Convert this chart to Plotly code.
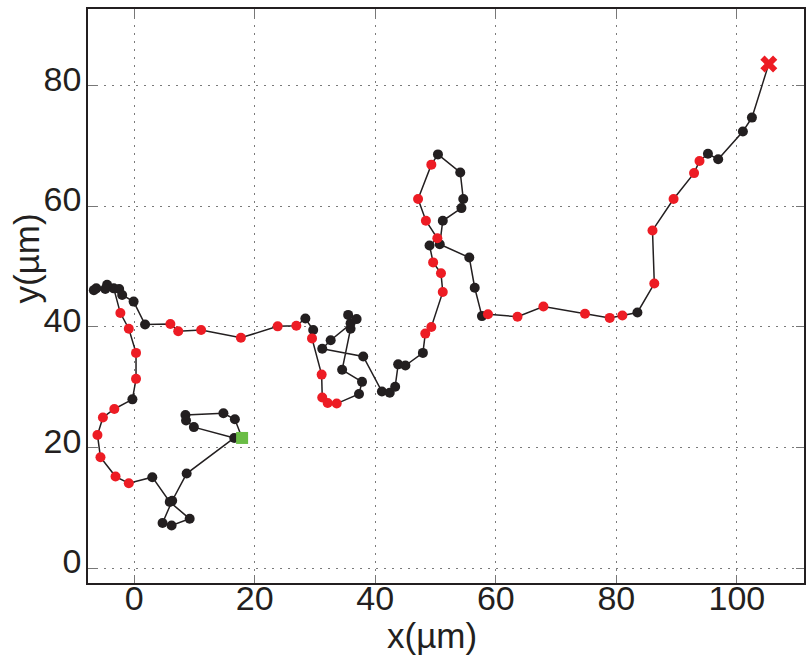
import plotly.graph_objects as go

# Cell trajectory (µm); state: "k" = black step, "r" = red step,
# first point is the start, last point is the end.
x_um = [17.9, 16.7, 14.8, 8.5, 8.6, 9.9, 16.6, 8.7, 6.3, 4.7, 6.2, 9.2, 5.9, 3.0,
        -0.9, -3.1, -5.6, -6.1, -5.2, -3.3, -0.3, 0.3, 0.3, -0.9, -2.3,
        -3.4, -4.5, -4.8, -6.3, -6.7, -2.5, -2.0, -0.1, 1.8,
        6.0, 7.3, 11.1, 17.7, 23.8, 26.9, 28.4, 29.7, 29.5, 31.1, 31.2, 32.1, 33.6,
        37.3, 37.8, 34.5, 35.9, 35.9, 35.5, 36.9, 32.6, 31.2, 38.0, 41.1, 42.4, 43.3,
        43.8, 45.0, 47.9, 48.3, 49.3, 51.2, 50.9, 49.6, 49.0, 50.3, 48.4, 47.1, 49.3,
        50.4, 54.1, 54.6, 54.3, 51.2, 50.7, 55.6, 56.5, 57.7, 58.7, 63.6, 67.9, 74.8,
        78.9, 81.0, 83.5, 86.3, 86.0, 89.5, 92.9, 93.8, 95.2, 96.9, 101.0, 102.5, 105.3]
y_um = [21.6, 24.7, 25.7, 25.4, 24.5, 23.4, 21.6, 15.7, 11.2, 7.5, 7.1, 8.2, 11.0, 15.1,
        14.1, 15.2, 18.4, 22.1, 25.0, 26.4, 28.0, 31.4, 35.7, 39.7, 42.3,
        46.4, 47.0, 46.3, 46.4, 46.1, 46.3, 45.3, 44.2, 40.4,
        40.5, 39.3, 39.5, 38.2, 40.1, 40.2, 41.4, 39.5, 38.1, 32.1, 28.3, 27.4, 27.3,
        28.9, 30.9, 32.9, 39.7, 40.6, 42.0, 41.3, 37.8, 36.4, 35.1, 29.3, 29.1, 30.1,
        33.8, 33.6, 35.7, 38.9, 40.0, 45.8, 48.9, 50.7, 53.5, 54.7, 57.6, 61.2, 66.9,
        68.6, 65.6, 61.2, 59.7, 57.6, 53.7, 51.5, 46.5, 41.8, 42.1, 41.7, 43.4, 42.2,
        41.5, 41.9, 42.4, 47.2, 56.0, 61.2, 65.5, 67.5, 68.7, 67.8, 72.4, 74.7, 83.6]
state = ["s", "k", "k", "k", "k", "k", "k", "k", "k", "k", "k", "k", "k", "k",
         "r", "r", "r", "r", "r", "r", "k", "r", "r", "r", "r",
         "k", "k", "k", "k", "k", "k", "k", "k", "k",
         "r", "r", "r", "r", "r", "r", "k", "k", "r", "r", "r", "r", "r",
         "k", "k", "k", "k", "k", "k", "k", "k", "k", "k", "k", "k", "k",
         "k", "k", "k", "r", "r", "r", "r", "r", "k", "r", "r", "r", "r",
         "k", "k", "k", "k", "k", "k", "k", "k", "k", "r", "r", "r", "r",
         "r", "r", "k", "r", "r", "r", "r", "r", "k", "k", "k", "k", "e"]

x_ticks = [0, 20, 40, 60, 80, 100]
y_ticks = [0, 20, 40, 60, 80]
x_title = "x(µm)"
y_title = "y(µm)"

BLACK = "#231F20"
RED = "#ED1C24"
GREEN = "#6ABD45"
FONT = "Liberation Sans, Arial, sans-serif"

fig = go.Figure()

# connecting path
fig.add_trace(go.Scatter(x=x_um, y=y_um, mode="lines",
                         line=dict(color=BLACK, width=1.5), hoverinfo="skip"))

# step markers coloured by state
for key, col in (("k", BLACK), ("r", RED)):
    xs = [x for x, s in zip(x_um, state) if s == key]
    ys = [y for y, s in zip(y_um, state) if s == key]
    fig.add_trace(go.Scatter(x=xs, y=ys, mode="markers",
                             marker=dict(color=col, size=10, line=dict(width=0))))

# start and end markers
xs = [x for x, s in zip(x_um, state) if s == "s"]
ys = [y for y, s in zip(y_um, state) if s == "s"]
fig.add_trace(go.Scatter(x=xs, y=ys, mode="markers",
                         marker=dict(symbol="square", color=GREEN, size=12, line=dict(width=0))))
xs = [x for x, s in zip(x_um, state) if s == "e"]
ys = [y for y, s in zip(y_um, state) if s == "e"]
fig.add_trace(go.Scatter(x=xs, y=ys, mode="markers",
                         marker=dict(symbol="x", color=RED, size=15, line=dict(width=0))))

axis_common = dict(
    showgrid=True, gridcolor="#7a7a7a", gridwidth=1, griddash="2px,6px",
    zeroline=False, showline=True, linecolor=BLACK, linewidth=1.5,
    mirror="allticks", ticks="inside", ticklen=8, tickcolor="#777777", tickwidth=1,
    tickfont=dict(family=FONT, size=34, color=BLACK),
)

fig.update_xaxes(range=[-7.67, 111.14], tickvals=x_ticks,
                 ticktext=[str(v) for v in x_ticks], ticklabelstandoff=-16, **axis_common)
fig.update_yaxes(range=[-2.44, 92.7], tickvals=y_ticks,
                 ticktext=[str(v) for v in y_ticks], ticklabelstandoff=-2,
                 ticklabelshift=-7, **axis_common)

fig.add_annotation(text=x_title, xref="paper", yref="paper", x=0.4805, y=-0.091,
                   xanchor="center", yanchor="middle", showarrow=False,
                   font=dict(family=FONT, size=35, color=BLACK))
fig.add_annotation(text=y_title, xref="paper", yref="paper", x=-0.086, y=0.566,
                   xanchor="center", yanchor="middle", showarrow=False, textangle=-90,
                   font=dict(family=FONT, size=35, color=BLACK))

fig.update_layout(
    width=806, height=656,
    margin=dict(l=88, r=0, t=9, b=73),
    paper_bgcolor="white", plot_bgcolor="white",
    showlegend=False,
)

fig.write_html("out.html")
